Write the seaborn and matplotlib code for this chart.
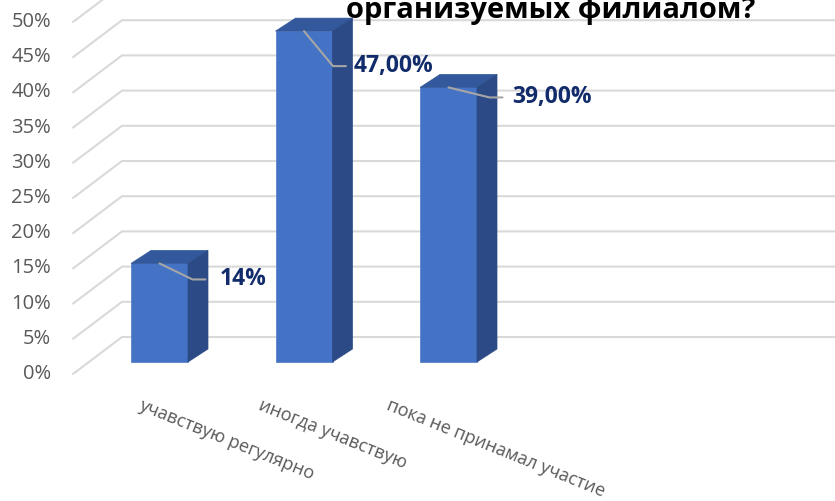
import matplotlib
matplotlib.use('Agg')
import matplotlib.pyplot as plt
import seaborn as sns
import pandas as pd
from matplotlib.patches import Polygon

# данные с картинки
categories = ['учавствую регулярно', 'иногда учавствую', 'пока не принамал участие']
values = [14, 47, 39]
value_labels = ['14%', '47,00%', '39,00%']
y_ticks = [0, 5, 10, 15, 20, 25, 30, 35, 40, 45, 50]
title_line = 'организуемых филиалом?'

sns.set_style('white')
plt.rcParams['font.family'] = ['Open Sans', 'DejaVu Sans']

W, H = 835, 501
fig = plt.figure(figsize=(W / 100, H / 100), dpi=100)
ax = fig.add_axes([0, 0, 1, 1])

# масштаб: пикселей на одну категорию и на 1%
px_x, px_y = 144.5, 7.04
x0_px, y0_px = 159.5, H - 362

df = pd.DataFrame({'cat': categories, 'val': values})
sns.barplot(data=df, x='cat', y='val', color='#4472C4', saturation=1,
            width=57 / px_x, edgecolor='#5A84CF', linewidth=0.6, ax=ax, zorder=3)

ax.set_xlim(-x0_px / px_x, (W - x0_px) / px_x)
ax.set_ylim(-y0_px / px_y, (H - y0_px) / px_y)
ax.set_autoscale_on(False)
ax.axis('off')
xmax = ax.get_xlim()[1]

# стены: задняя стенка и боковые диагонали
front_x = (73 - x0_px) / px_x
back_x = (122 - x0_px) / px_x
for v in y_ticks:
    fy = v - 12 / px_y
    by = v + 25 / px_y
    ax.plot([front_x, back_x, xmax], [fy, by, by], color='#D9D9D9', lw=1.5, zorder=0)
    ax.text(front_x - 22 / px_x, fy, f'{v}%', ha='right', va='center',
            color='#595959', fontsize=14.5)

# объём столбцов
ddx, ddy = 20 / px_x, 13 / px_y
for p in ax.patches[:len(values)]:
    x0, w, h = p.get_x(), p.get_width(), p.get_height()
    x1 = x0 + w
    top = Polygon([(x0, h), (x1, h), (x1 + ddx, h + ddy), (x0 + ddx, h + ddy)],
                  closed=True, facecolor='#34589C', edgecolor='#34589C', lw=0.5, zorder=3)
    side = Polygon([(x1, 0), (x1 + ddx, ddy), (x1 + ddx, h + ddy), (x1, h)],
                   closed=True, facecolor='#2C4A86', edgecolor='#2C4A86', lw=0.5, zorder=3)
    ax.add_patch(top)
    ax.add_patch(side)

# подписи значений с выносками (смещения в пикселях)
elbows = [(33, -16), (29, -35), (41, -10)]
text_dx = [60, 50, 64]
for i, p in enumerate(ax.patches[:len(values)]):
    cx = p.get_x() + p.get_width() / 2
    h = p.get_height()
    ex, ey = elbows[i]
    xs = [cx, cx + ex / px_x, cx + (ex + 13) / px_x]
    ys = [h, h + ey / px_y, h + ey / px_y]
    ax.plot(xs, ys, color='#A6A6A6', lw=1.5, zorder=4)
    ax.text(cx + text_dx[i] / px_x, h + ey / px_y, value_labels[i], ha='left', va='center',
            color='#122C6B', fontsize=16.5, fontweight='bold', zorder=5)

# подписи категорий
label_shift = [-17, -41, -58]
label_y = (H - 396 - y0_px) / px_y
for i, c in enumerate(categories):
    ax.text(i + label_shift[i] / px_x, label_y, c, rotation=-22, rotation_mode='anchor',
            ha='left', va='top', color='#595959', fontsize=13)

fig.text(551 / W, 1 - 18 / H, title_line, ha='center', va='baseline',
         fontsize=21, fontweight='bold', color='black')

fig.savefig('out.png', dpi=100, facecolor='white')
